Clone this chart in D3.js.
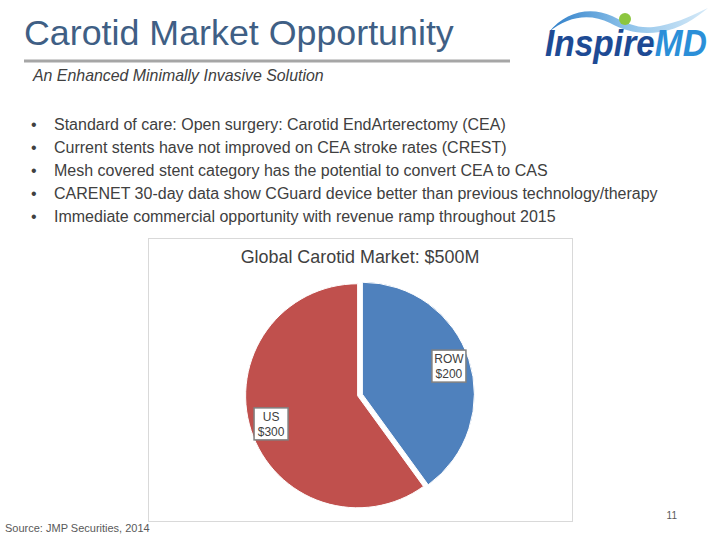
<!DOCTYPE html>
<html><head><meta charset="utf-8">
<script src="https://cdn.jsdelivr.net/npm/d3@7"></script>
<style>html,body{margin:0;padding:0;background:#fff;}svg{display:block;font-family:"Liberation Sans",Arial,sans-serif;}</style>
</head><body>
<script>
const categories = ["ROW", "US"];
const values = [200, 300];
const valueLabels = ["$200", "$300"];
const colors = ["#4f81bd", "#c0504d"];
const pageTitle = "Carotid Market Opportunity";
const subtitle = "An Enhanced Minimally Invasive Solution";
const bullets = [
  "Standard of care: Open surgery: Carotid EndArterectomy (CEA)",
  "Current stents have not improved on CEA stroke rates (CREST)",
  "Mesh covered stent category has the potential to convert CEA to CAS",
  "CARENET 30-day data show CGuard device better than previous technology/therapy",
  "Immediate commercial opportunity with revenue ramp throughout 2015"
];
const chartTitle = "Global Carotid Market: $500M";
const source = "Source: JMP Securities, 2014";
const pageNum = "11";

const svg = d3.select("body").append("svg").attr("width", 720).attr("height", 540);

// Title
svg.append("text").attr("x", 24).attr("y", 45).attr("font-size", 35.8).attr("fill", "#3f5f85").text(pageTitle);
svg.append("rect").attr("x", 24).attr("y", 59.5).attr("width", 486).attr("height", 3).attr("fill", "#a6a6a6");
svg.append("text").attr("x", 33).attr("y", 81).attr("font-size", 15.9).attr("font-style", "italic").attr("fill", "#404040").text(subtitle);

// Logo
const logo = svg.append("g");
const defs = svg.append("defs");
const lg = defs.append("linearGradient").attr("id", "sw").attr("x1", "0").attr("x2", "1").attr("y1", "0").attr("y2", "0");
lg.append("stop").attr("offset", "0").attr("stop-color", "#2f7fc9");
lg.append("stop").attr("offset", "0.5").attr("stop-color", "#8fc3ea");
lg.append("stop").attr("offset", "1").attr("stop-color", "#d6eaf8");
const tg = defs.append("linearGradient").attr("id", "lt").attr("gradientUnits", "userSpaceOnUse")
  .attr("x1", 0).attr("x2", 162).attr("y1", 0).attr("y2", 0);
tg.append("stop").attr("offset", 0.665).attr("stop-color", "#1e4a94");
tg.append("stop").attr("offset", 0.665).attr("stop-color", "#2b8fd8");
logo.append("path")
  .attr("d", "M549,32 C565,12 590,6 612,16 C628,24 640,30 660,26 C680,22 695,14 708,8 C696,18 680,29 660,32 C640,35 625,31 610,23 C590,13 568,16 549,32 Z")
  .attr("fill", "url(#sw)");
logo.append("circle").attr("cx", 625).attr("cy", 19).attr("r", 6).attr("fill", "#8cc63f");
logo.append("text").attr("transform", "translate(545,56) scale(1,1.12)").attr("x", 0).attr("y", 0)
  .attr("font-size", 33.5).attr("font-weight", "bold").attr("font-style", "italic")
  .attr("fill", "url(#lt)").text("InspireMD");

// Bullets
const bl = svg.append("g").attr("font-size", 16).attr("fill", "#404040");
bullets.forEach((b, i) => {
  const y = 130 + i * 23;
  bl.append("text").attr("x", 31).attr("y", y).text("\u2022");
  bl.append("text").attr("x", 54).attr("y", y).text(b);
});

// Chart box
svg.append("rect").attr("x", 148.5).attr("y", 238.5).attr("width", 424).attr("height", 283)
  .attr("fill", "none").attr("stroke", "#d9d9d9").attr("stroke-width", 1);
svg.append("text").attr("x", 360).attr("y", 263).attr("text-anchor", "middle").attr("font-size", 17.9).attr("fill", "#404040").text(chartTitle);

// Pie
const cx = 360, cy = 395, r = 112, explode = 2.5;
const pie = d3.pie().sort(null).value(d => d)(values);
const arc = d3.arc().innerRadius(0).outerRadius(r);
const labelArc = d3.arc().innerRadius(91).outerRadius(91);
const pg = svg.append("g").attr("transform", `translate(${cx},${cy})`);
pie.forEach((p, i) => {
  const mid = (p.startAngle + p.endAngle) / 2;
  const dx = Math.sin(mid) * explode, dy = -Math.cos(mid) * explode;
  const g = pg.append("g").attr("transform", `translate(${dx},${dy})`);
  g.append("path").attr("d", arc(p)).attr("fill", colors[i]).attr("stroke", "#fff").attr("stroke-width", 1);
});
pie.forEach((p, i) => {
  const mid = (p.startAngle + p.endAngle) / 2;
  const dx = Math.sin(mid) * explode, dy = -Math.cos(mid) * explode;
  const [lx, ly] = labelArc.centroid(p);
  const g = pg.append("g").attr("transform", `translate(${lx + dx},${ly + dy})`);
  const t1 = categories[i], t2 = valueLabels[i];
  const w = Math.max(t1.length, t2.length) * 7 + 6;
  g.append("rect").attr("x", -w / 2).attr("y", -16).attr("width", w).attr("height", 32)
    .attr("fill", "#fff").attr("stroke", "#808080").attr("stroke-width", 1.5);
  g.append("text").attr("text-anchor", "middle").attr("y", -3).attr("font-size", 12).attr("fill", "#404040").text(t1);
  g.append("text").attr("text-anchor", "middle").attr("y", 12).attr("font-size", 12).attr("fill", "#404040").text(t2);
});

// Footer
svg.append("text").attr("x", 5).attr("y", 532).attr("font-size", 11).attr("fill", "#595959").text(source);
svg.append("text").attr("x", 677).attr("y", 519).attr("text-anchor", "end").attr("font-size", 10).attr("fill", "#595959").text(pageNum);
</script>
</body></html>
